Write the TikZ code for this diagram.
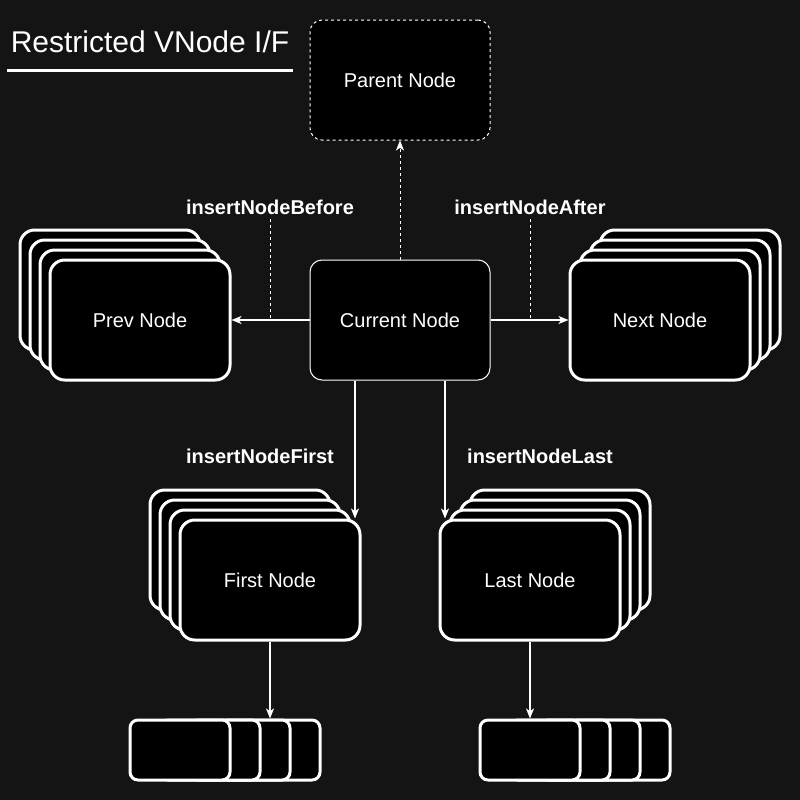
\documentclass[tikz,border=0pt]{standalone}
\usepackage{fontspec}
\setmainfont{Liberation Sans}
\usepackage{xcolor}
\usetikzlibrary{arrows.meta,calc,positioning}
\definecolor{bgdark}{HTML}{141414}

\begin{document}
\begin{tikzpicture}[x=0.75pt,y=-0.75pt,>={Stealth[length=7.5pt,width=6pt,inset=2pt]},
  every node/.style={text=white,font=\fontsize{15}{18}\selectfont},
  cur node/.style={draw=white,fill=black,line width=0.75pt,rounded corners=9pt,
    minimum width=135pt,minimum height=90pt},
  ghost node/.style={cur node,dash pattern=on 2.25pt off 2.25pt},
  stack node/.style={draw=white,fill=black,line width=2.25pt,rounded corners=11pt,
    minimum width=135pt,minimum height=90pt},
  list node/.style={draw=white,fill=black,line width=2.25pt,rounded corners=6pt,
    minimum width=75pt,minimum height=45pt},
  op label/.style={font=\bfseries\fontsize{15}{18}\selectfont},
  link/.style={->,draw=white,line width=1.2pt},
  hint line/.style={draw=white,line width=0.75pt,dash pattern=on 2.25pt off 2.25pt}]

\fill[bgdark] (0,0) rectangle (800,800);
\useasboundingbox (0,0) rectangle (800,800);

% title
\node[anchor=base,font=\fontsize{22.5}{27}\selectfont] (title) at (150,52) {Restricted VNode I/F};
\draw[white,line width=2.25pt] (7,70) -- (293,70);

\node[ghost node] (parent) at (400,80) {Parent Node};
\node[cur node] (current) at (400,320) {Current Node};

% siblings before
\node[stack node] (prev3) at (110,290) {};
\node[stack node] (prev2) at (120,300) {};
\node[stack node] (prev1) at (130,310) {};
\node[stack node] (prev) at (140,320) {Prev Node};

% siblings after
\node[stack node] (next3) at (690,290) {};
\node[stack node] (next2) at (680,300) {};
\node[stack node] (next1) at (670,310) {};
\node[stack node] (next) at (660,320) {Next Node};

% children
\node[stack node] (first3) at (240,550) {};
\node[stack node] (first2) at (250,560) {};
\node[stack node] (first1) at (260,570) {};
\node[stack node] (first) at (270,580) {First Node};

\node[stack node] (last3) at (560,550) {};
\node[stack node] (last2) at (550,560) {};
\node[stack node] (last1) at (540,570) {};
\node[stack node] (last) at (530,580) {Last Node};

% grandchildren
\node[list node] (flist3) at (270,750) {};
\node[list node] (flist2) at (240,750) {};
\node[list node] (flist1) at (210,750) {};
\node[list node] (flist) at (180,750) {};

\node[list node] (llist3) at (620,750) {};
\node[list node] (llist2) at (590,750) {};
\node[list node] (llist1) at (560,750) {};
\node[list node] (llist) at (530,750) {};

% operation names
\node[op label] (before) at (270,207) {insertNodeBefore};
\node[op label] (after) at (530,207) {insertNodeAfter};
\node[op label] (firstop) at (260,456) {insertNodeFirst};
\node[op label] (lastop) at (540,456) {insertNodeLast};

\path
(current.west) edge[link] (prev.east)
(current.east) edge[link] (next.west)
([xshift=-33.75pt]current.south) edge[link] ([xshift=-33.75pt]current.south |- first.north)
([xshift=33.75pt]current.south) edge[link] ([xshift=33.75pt]current.south |- last.north)
(first.south) edge[link] (first.south |- flist.north)
(last.south) edge[link] (last.south |- llist.north)
(current.north) edge[link,line width=0.75pt,dash pattern=on 2.25pt off 2.25pt] (parent.south);

\path
(before.south) edge[hint line] (before.south |- current.west)
(after.south) edge[hint line] (after.south |- current.east);
\end{tikzpicture}
\end{document}
